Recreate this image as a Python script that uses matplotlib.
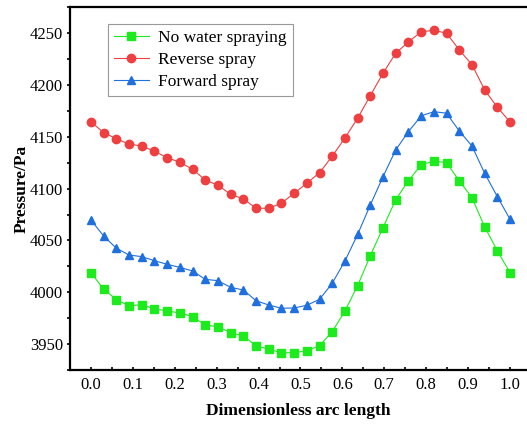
import numpy as np
import matplotlib
matplotlib.use("Agg")
import matplotlib.pyplot as plt
from matplotlib.ticker import MultipleLocator

# dimensionless arc length, 34 evenly spaced stations
arc_length = np.linspace(0, 1, 34)

no_water = [4019, 4003, 3993, 3987, 3988, 3984, 3982, 3980, 3976.5, 3968.4,
            3966.8, 3961, 3957.8, 3948.5, 3945, 3941.7, 3941.7, 3943.6, 3948.5, 3962,
            3982, 4006.4, 4035.3, 4062.4, 4089.4, 4107.7, 4122.9, 4126.7, 4125, 4107.7,
            4091.3, 4063.3, 4040, 4019]

reverse_spray = [4164.4, 4154.1, 4148.2, 4142.9, 4141.2, 4136.1, 4129.9, 4125.5, 4118.7, 4108.4,
                 4103.3, 4094.6, 4090.1, 4081.1, 4081.1, 4085.9, 4095.6, 4105.2, 4115.4, 4131.3,
                 4148.9, 4168, 4189.8, 4211.4, 4230.7, 4241.6, 4251.3, 4252.9, 4250, 4233.9,
                 4219.7, 4195.3, 4178.6, 4164.4]

forward_spray = [4069.8, 4054.3, 4042.5, 4036, 4034.4, 4030.5, 4027, 4024, 4020.6, 4012.5,
                 4011.2, 4004.8, 4002.2, 3991.9, 3987.7, 3984.6, 3984.8, 3987.5, 3993.2, 4008.7,
                 4030.2, 4055.8, 4084.3, 4111.6, 4137.4, 4155, 4170.2, 4174.3, 4172.8, 4155.7,
                 4141.2, 4114.9, 4092.3, 4070.5]

plt.rcParams['font.family'] = ['Liberation Serif', 'DejaVu Serif']

fig = plt.figure(figsize=(5.27, 4.25), dpi=100)
ax = fig.add_axes([0.1328, 0.1294, 0.8672, 0.8534])

ax.plot(arc_length, no_water, color='#1EEB1E', lw=0.8, marker='s', ms=5.2,
        label='No water spraying')
ax.plot(arc_length, reverse_spray, color='#EE4040', lw=0.8, marker='o', ms=6,
        label='Reverse spray')
ax.plot(arc_length, forward_spray, color='#1F6FDF', lw=0.8, marker='^', ms=6.2,
        label='Forward spray')

ax.set_xlim(-0.05, 1.0405)
ax.set_ylim(3925, 4275)
ax.xaxis.set_minor_locator(MultipleLocator(0.05))
ax.yaxis.set_major_locator(MultipleLocator(50))
ax.yaxis.set_minor_locator(MultipleLocator(25))
ax.set_xticks(np.arange(0, 1.01, 0.1))
ax.set_xticklabels([f'{v:.1f}' for v in np.arange(0, 1.01, 0.1)])

for s in ['left', 'bottom', 'top']:
    ax.spines[s].set_linewidth(1.6)
ax.spines['right'].set_visible(False)

ax.tick_params(axis='both', which='major', labelsize=12, length=2, width=1.2)
ax.tick_params(axis='both', which='minor', length=2, width=1.2)
ax.tick_params(axis='x', which='both', direction='in', pad=5)
ax.tick_params(axis='y', which='both', direction='out', pad=3)

ax.set_xlabel('Dimensionless arc length', fontsize=12.5, fontweight='bold', labelpad=7)
ax.set_ylabel('Pressure/Pa', fontsize=12.5, fontweight='bold', labelpad=0)

leg = ax.legend(loc='upper left', bbox_to_anchor=(0.083, 0.954), borderaxespad=0,
                fontsize=12.5, fancybox=False, edgecolor='#999999', framealpha=1,
                handlelength=2.0, handletextpad=0.55, labelspacing=0.32,
                borderpad=0.35)
leg.get_frame().set_linewidth(0.8)

fig.savefig('out.png', dpi=100)
